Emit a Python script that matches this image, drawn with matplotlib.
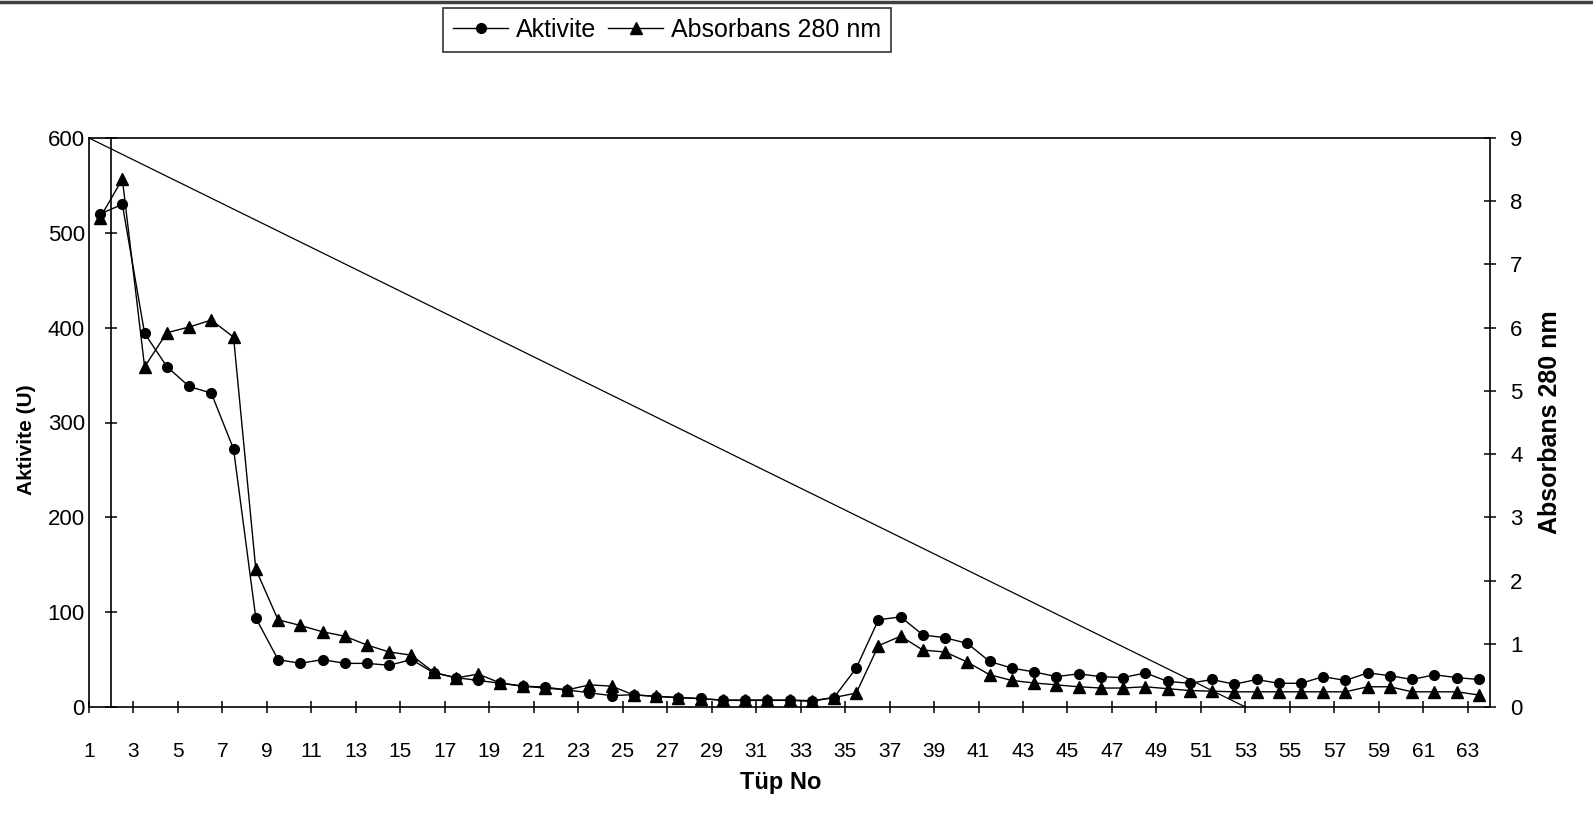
import matplotlib
matplotlib.use("Agg")
import matplotlib.pyplot as plt
from matplotlib.lines import Line2D
import numpy as np

plt.rcParams['font.family'] = ['Liberation Sans', 'DejaVu Sans']

# ---------------- data ----------------
tube_no = list(range(1, 64))
aktivite = [520, 530, 394, 359, 338, 331, 272, 94, 50, 46,
            50, 46, 46, 44, 50, 36, 31, 28, 25, 22,
            21, 18, 15, 12, 13, 11, 10, 9, 7, 7,
            7, 7, 6, 10, 41, 92, 95, 76, 73, 67,
            48, 41, 37, 32, 35, 32, 31, 36, 27, 25,
            29, 24, 29, 25, 25, 32, 28, 36, 33, 29,
            34, 31, 29]
absorbans = [7.74, 8.35, 5.38, 5.92, 6.01, 6.12, 5.85, 2.18, 1.38, 1.29,
             1.19, 1.12, 0.98, 0.87, 0.82, 0.55, 0.46, 0.52, 0.38, 0.33,
             0.30, 0.27, 0.35, 0.33, 0.19, 0.17, 0.15, 0.13, 0.11, 0.11,
             0.11, 0.11, 0.10, 0.15, 0.22, 0.97, 1.12, 0.90, 0.87, 0.71,
             0.51, 0.42, 0.38, 0.35, 0.32, 0.30, 0.30, 0.32, 0.29, 0.26,
             0.25, 0.24, 0.24, 0.24, 0.24, 0.24, 0.24, 0.32, 0.32, 0.24,
             0.24, 0.24, 0.19]
gradient_tube = [1, 53]
gradient_value = [600, 0]
x_tick_labels = [str(v) for v in range(1, 64, 2)]
left_ticks = [0, 100, 200, 300, 400, 500, 600]
right_ticks = list(range(0, 10))

# ---------------- figure ----------------
W, H = 1593, 825
fig = plt.figure(figsize=(W / 100, H / 100), dpi=100)
L, R, T, B = 89, 1490, 138, 707
ax = fig.add_axes([L / W, 1 - B / H, (R - L) / W, (B - T) / H])
ax2 = ax.twinx()

x = np.array(tube_no) + 0.5
lw = 1.0
ax.plot(gradient_tube, gradient_value, color='black', lw=0.9, zorder=2)
ax.plot(x, aktivite, color='black', lw=lw, marker='o', markersize=7,
        markerfacecolor='black', markeredgecolor='black', zorder=4)
ax2.plot(x, absorbans, color='black', lw=lw, marker='^', markersize=8,
         markerfacecolor='black', markeredgecolor='black', zorder=4)

ax.set_xlim(1, 64)
ax.set_ylim(0, 600)
ax2.set_ylim(0, 9)

# primary y axis crossing at category 2, plot border at the left edge
ax.spines['left'].set_position(('data', 2))
ax.axvline(1, color='black', lw=1.2, clip_on=False, zorder=5)
for s in ['top', 'bottom']:
    ax.spines[s].set_linewidth(1.2)
ax.spines['left'].set_linewidth(1.2)
ax2.spines['right'].set_linewidth(1.2)
for s in ['left', 'top', 'bottom']:
    ax2.spines[s].set_visible(False)
ax.spines['right'].set_visible(False)

tick_len = 9
ax.set_yticks(left_ticks)
ax.tick_params(axis='y', direction='inout', length=tick_len, width=1.1,
               pad=14.5, labelsize=16)
ax.set_xticks(list(range(1, 64, 2)))
ax.set_xticklabels(x_tick_labels)
ax.tick_params(axis='x', direction='inout', length=tick_len, width=1.1,
               pad=21, labelsize=15)
ax2.set_yticks(right_ticks)
ax2.tick_params(axis='y', direction='inout', length=tick_len, width=1.1,
                pad=10, labelsize=16)

fig.text(27 / W, 1 - 440 / H, 'Aktivite (U)', rotation=90, ha='center',
         va='center', fontsize=15, fontweight='bold')
fig.text(1550 / W, 1 - 422 / H, 'Absorbans 280 nm', rotation=90,
         ha='center', va='center', fontsize=18, fontweight='bold')
fig.text(781 / W, 1 - 782 / H, 'Tüp No', ha='center', va='center',
         fontsize=17, fontweight='bold')

handles = [Line2D([], [], color='black', lw=lw, marker='o', markersize=7),
           Line2D([], [], color='black', lw=lw, marker='^', markersize=8)]
leg = fig.legend(handles, ['Aktivite', 'Absorbans 280 nm'], ncol=2,
                 loc='upper left', bbox_to_anchor=(443 / W, 1 - 8 / H),
                 frameon=True, fancybox=False, edgecolor='black',
                 fontsize=18, handlelength=2.2, handletextpad=0.3,
                 columnspacing=0.5, borderpad=0.4, borderaxespad=0)
leg.get_frame().set_linewidth(1.2)

# top border of the chart area
fig.add_artist(Line2D([0, 1], [1 - 1.5 / H, 1 - 1.5 / H],
                      transform=fig.transFigure, color='#404040', lw=2.5))

fig.savefig('out.png', dpi=100, facecolor='white')
